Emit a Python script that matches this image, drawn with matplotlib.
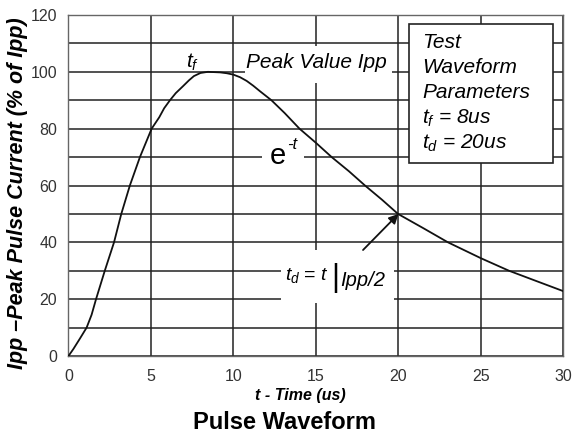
import matplotlib
matplotlib.use('Agg')
import matplotlib.pyplot as plt
from matplotlib.patches import Rectangle

plt.rcParams['font.family'] = ['Liberation Sans', 'DejaVu Sans']
plt.rcParams['mathtext.fontset'] = 'custom'
plt.rcParams['mathtext.rm'] = 'Liberation Sans'
plt.rcParams['mathtext.it'] = 'Liberation Sans:italic'

# curve (time in us, % of Ipp)
t_us = [0, 0.3, 0.7, 1.1, 1.4, 1.67, 2.2, 2.76, 3.2, 3.72, 4.33, 5.04, 5.5,
        5.8, 6.15, 6.5, 6.95, 7.3, 7.6, 8.0, 8.45, 9.2, 9.6, 10.0, 10.4,
        10.8, 11.2, 11.6, 11.95, 12.3, 13.1, 14.0, 15.0, 15.95, 17.0, 17.97,
        19.0, 19.97, 21.5, 23.0, 25.0, 26.7, 28.3, 30.0]
ipp_pct = [0, 2.5, 6.2, 10, 14.5, 20, 30, 40, 50, 60, 70, 80, 84,
           87.2, 90, 92.5, 95, 97.0, 98.5, 99.6, 100, 99.8, 99.5, 99, 98.1,
           96.8, 95.1, 93.2, 91.6, 90, 85.5, 80, 75, 70, 65, 60,
           55, 50, 45, 40, 34.4, 30, 26.5, 22.8]

x_ticks = [0, 5, 10, 15, 20, 25, 30]
y_ticks = [0, 20, 40, 60, 80, 100, 120]
box_lines = ['Test', 'Waveform', 'Parameters', r'$t_f$ = 8us', r'$t_d$ = 20us']

fig = plt.figure(figsize=(5.74, 4.41), dpi=100)
ax = fig.add_axes([0.1193, 0.1927, 0.8624, 0.7733])

ax.set_xlim(0, 30)
ax.set_ylim(0, 120)
ax.set_xticks(x_ticks)
ax.set_yticks(y_ticks)
ax.set_yticks(range(10, 120, 20), minor=True)
ax.tick_params(which='both', length=0, labelsize=11.5, labelcolor='#333')
ax.tick_params(axis='y', pad=8)
ax.tick_params(axis='x', pad=9)
ax.set_axisbelow(True)
ax.grid(True, which='both', color='#222', lw=1.1)
for sp in ax.spines.values():
    sp.set_color('#666')
    sp.set_linewidth(1.0)

ax.plot(t_us, ipp_pct, color='#111', lw=1.3, zorder=4)

# white masks behind the labels
ax.add_patch(Rectangle((10.7, 96.1), 8.9, 13.0, fc='white', ec='none', zorder=2))
ax.add_patch(Rectangle((11.7, 65.5), 2.6, 10.5, fc='white', ec='none', zorder=2))
ax.add_patch(Rectangle((12.9, 18.5), 6.85, 18.8, fc='white', ec='none', zorder=2))
ax.add_patch(Rectangle((20.64, 67.96), 8.72, 48.94, fc='white', ec='#222',
                       lw=1.2, zorder=3))

ax.text(7.55, 103.2, r'$t_f$', fontsize=15, ha='center', va='center', zorder=5)
ax.text(10.75, 103.2, 'Peak Value Ipp', fontsize=15, style='italic',
        ha='left', va='center', zorder=5)
ax.text(12.2, 70.5, 'e', fontsize=21, ha='left', va='center', zorder=5)
ax.text(13.25, 74.5, '-t', fontsize=12, style='italic', ha='left',
        va='center', zorder=5)

box_y = [110.2, 101.4, 92.6, 83.8, 75.0]
for line, yy in zip(box_lines, box_y):
    ax.text(21.45, yy, line, fontsize=15, style='italic', ha='left',
            va='center', zorder=5)

ax.text(13.1, 28.5, r'$t_d$ = $t$', fontsize=14, ha='left', va='center', zorder=5)
ax.text(15.9, 27.5, '|', fontsize=22, ha='left', va='center', zorder=5)
ax.text(16.45, 26.5, 'Ipp/2', fontsize=14.5, style='italic', ha='left',
        va='center', zorder=5)

ax.annotate('', xy=(20, 50), xytext=(17.85, 37.3),
            arrowprops=dict(arrowstyle='-|>', color='#111', lw=1.3,
                            mutation_scale=14, shrinkA=0, shrinkB=0),
            zorder=5)

fig.text(0.031, 0.562, 'Ipp \u2013Peak Pulse Current (% of Ipp)', rotation=90,
         fontsize=15.5, fontweight='bold', style='italic',
         ha='center', va='center')
fig.text(0.524, 0.104, 't - Time (us)', fontsize=11.5, fontweight='bold',
         style='italic', ha='center', va='center')
fig.text(0.4965, 0.041, 'Pulse Waveform', fontsize=17, fontweight='bold',
         ha='center', va='center')

fig.savefig('out.png', dpi=100)
